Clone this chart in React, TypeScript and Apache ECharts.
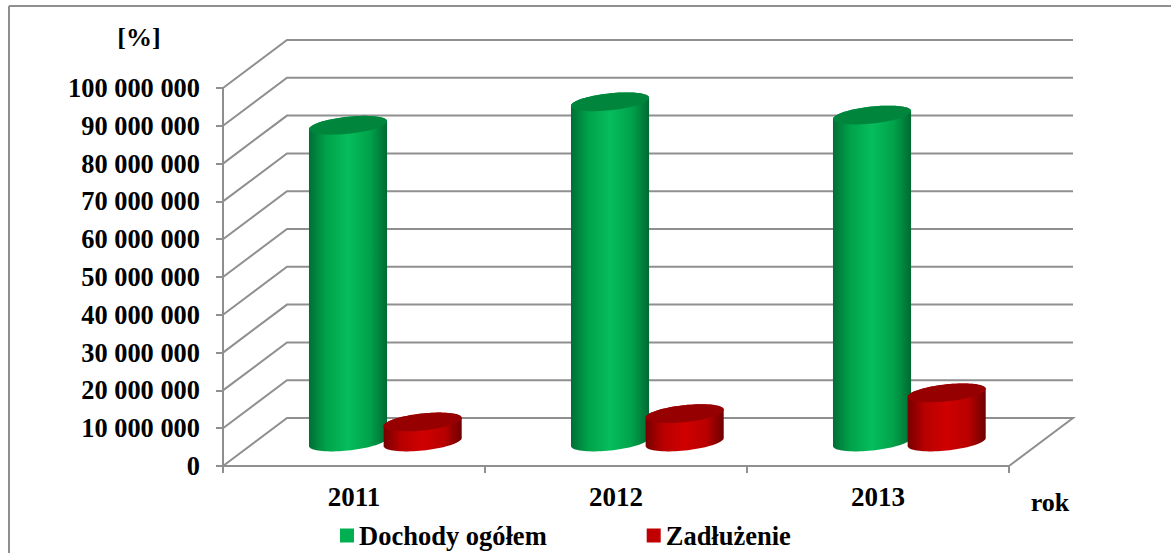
import React, { useEffect, useRef } from "react";
import * as echarts from "echarts";

const years = ["2011", "2012", "2013"];
const income = [83800000, 90000000, 86500000];
const debt = [5300000, 7500000, 13000000];
const tickValues = [0, 10000000, 20000000, 30000000, 40000000, 50000000, 60000000, 70000000, 80000000, 90000000, 100000000];
const tickLabels = ["0", "10 000 000", "20 000 000", "30 000 000", "40 000 000", "50 000 000", "60 000 000", "70 000 000", "80 000 000", "90 000 000", "100 000 000"];

const FONT = "Liberation Serif";
const GRID_COLOR = "#8f8f8f";
const DEPTH_X = 64;
const DEPTH_Y = -48;

function cylinderRenderer(offsetRatio: number, stops: string[], topColor: string) {
  return (_params: any, api: any) => {
    const band = api.size([1, 0])[0];
    const top = api.coord([api.value(0), api.value(1)]);
    const base = api.coord([api.value(0), 0]);
    const cx = top[0] + band * offsetRatio + DEPTH_X / 2;
    const yTop = top[1] + DEPTH_Y / 2;
    const yBase = base[1] + DEPTH_Y / 2;
    const rx = band * 0.149;
    const ry = 8.5;
    const skew = 4;
    const pt = (cy: number, t: number) => [
      cx + rx * Math.cos(t),
      cy + ry * Math.sin(t) - skew * Math.cos(t),
    ];
    const body: number[][] = [];
    const lid: number[][] = [];
    for (let i = 0; i <= 40; i++) body.push(pt(yBase, (Math.PI * i) / 40));
    for (let i = 0; i <= 40; i++) body.push(pt(yTop, Math.PI + (Math.PI * i) / 40));
    for (let i = 0; i < 80; i++) lid.push(pt(yTop, (2 * Math.PI * i) / 80));
    const fill = new echarts.graphic.LinearGradient(0, 0, 1, 0, [
      { offset: 0, color: stops[0] },
      { offset: 0.22, color: stops[1] },
      { offset: 0.5, color: stops[2] },
      { offset: 0.78, color: stops[1] },
      { offset: 1, color: stops[3] },
    ]);
    return {
      type: "group",
      children: [
        { type: "polygon", shape: { points: body }, style: { fill } },
        { type: "polygon", shape: { points: lid }, style: { fill: topColor } },
      ],
    };
  };
}

function wallRenderer(params: any, api: any) {
  const cs = params.coordSys;
  const v = api.value(1);
  const y = api.coord([0, v])[1];
  const left = cs.x;
  const right = cs.x + cs.width;
  const style = { stroke: GRID_COLOR, lineWidth: 2, fill: "none" };
  const points = [
    [left, y],
    [left + DEPTH_X, y + DEPTH_Y],
    [right + DEPTH_X, y + DEPTH_Y],
  ];
  if (v === 0) points.push([right, y]);
  return { type: "polyline", shape: { points }, style };
}

export default function App() {
  const ref = useRef<HTMLDivElement>(null);
  useEffect(() => {
    const chart = echarts.init(ref.current!, null, { renderer: "svg" });
    chart.setOption({
      animation: false,
      backgroundColor: "#ffffff",
      textStyle: { fontFamily: FONT },
      grid: { left: 223, top: 88, width: 786, height: 378 },
      xAxis: {
        type: "category",
        data: years,
        axisLine: { lineStyle: { color: GRID_COLOR, width: 2 } },
        axisTick: { show: true, length: 7, lineStyle: { color: GRID_COLOR, width: 2 } },
        axisLabel: { color: "#000", fontSize: 27, fontWeight: "bold", fontFamily: FONT, margin: 17 },
      },
      yAxis: {
        type: "value",
        min: 0,
        max: 100000000,
        interval: 10000000,
        splitLine: { show: false },
        axisLine: { show: true, lineStyle: { color: GRID_COLOR, width: 2 } },
        axisTick: { show: true, length: 7, lineStyle: { color: GRID_COLOR, width: 2 } },
        axisLabel: {
          color: "#000",
          fontSize: 26.4,
          fontWeight: "bold",
          fontFamily: FONT,
          margin: 23,
          formatter: (v: number) => tickLabels[tickValues.indexOf(v)],
        },
      },
      legend: {
        left: 340,
        top: 522,
        padding: 0,
        itemWidth: 14,
        itemHeight: 14,
        itemGap: 100,
        icon: "rect",
        data: ["Dochody ogółem", "Zadłużenie"],
        textStyle: { color: "#000", fontSize: 26.5, fontWeight: "bold", fontFamily: FONT },
      },
      graphic: [
        { type: "line", shape: { x1: 9, y1: 6, x2: 1171, y2: 6 }, style: { stroke: GRID_COLOR, lineWidth: 2 } },
        { type: "line", shape: { x1: 9, y1: 6, x2: 9, y2: 553 }, style: { stroke: GRID_COLOR, lineWidth: 2 } },
        { type: "text", x: 139, y: 37, style: { text: "[%]", fill: "#000", font: `bold 26px "${FONT}"`, textAlign: "center", textVerticalAlign: "middle" } },
        { type: "text", x: 1050, y: 502, style: { text: "rok", fill: "#000", font: `bold 26px "${FONT}"`, textAlign: "center", textVerticalAlign: "middle" } },
      ],
      series: [
        {
          type: "custom",
          silent: true,
          z: 1,
          clip: false,
          renderItem: wallRenderer,
          data: tickValues.map((v) => [0, v]),
        },
        {
          type: "custom",
          name: "Dochody ogółem",
          z: 2,
          clip: false,
          itemStyle: { color: "#00b050" },
          renderItem: cylinderRenderer(-0.145, ["#006f35", "#00a24a", "#06bd5c", "#006a33"], "#00853d"),
          data: income.map((v, i) => [i, v]),
        },
        {
          type: "custom",
          name: "Zadłużenie",
          z: 3,
          clip: false,
          itemStyle: { color: "#c00000" },
          renderItem: cylinderRenderer(0.14, ["#760000", "#b80000", "#d00000", "#6e0000"], "#960000"),
          data: debt.map((v, i) => [i, v]),
        },
      ],
    });
    return () => chart.dispose();
  }, []);
  return <div ref={ref} style={{ position: "fixed", left: 0, top: 0, width: 1171, height: 553 }} />;
}
